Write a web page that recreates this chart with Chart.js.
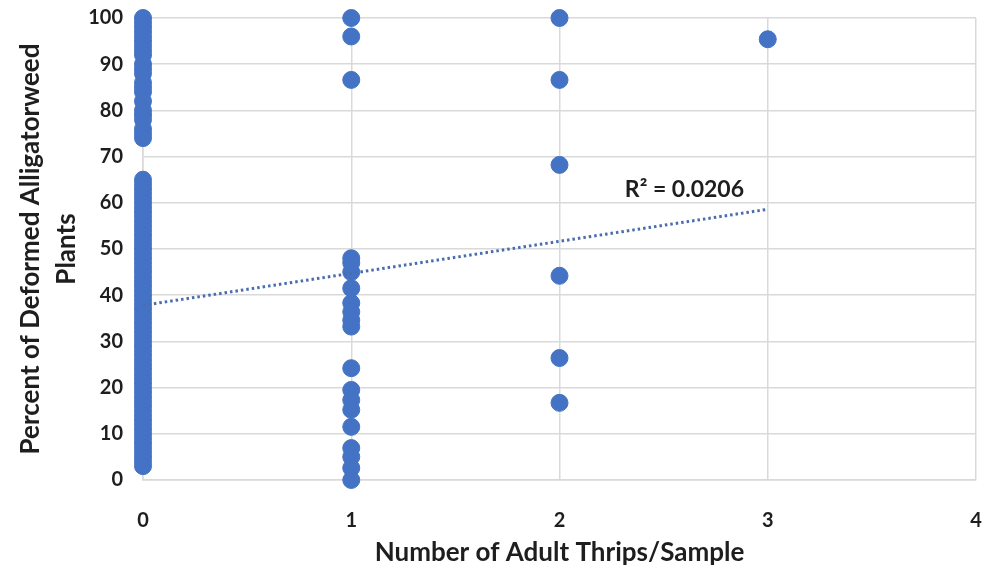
<!DOCTYPE html>
<html>
<head>
<meta charset="utf-8">
<script src="https://cdn.jsdelivr.net/npm/chart.js@4"></script>
<style>
  html, body { margin: 0; padding: 0; background: #fff; }
  #wrap { width: 988px; height: 573px; }
</style>
</head>
<body>
<div id="wrap"><canvas id="chart"></canvas></div>
<script>
// values
const thrips0 = [100, 99, 98, 97, 96, 95, 94, 93, 92, 90, 89, 88, 86, 85, 84, 82, 80, 79, 78, 76, 75, 74,
  65, 64, 63, 62, 61, 60, 59, 58, 57, 56, 55, 54, 53, 52, 51, 50, 49, 48, 47, 46, 45, 44, 43, 42, 41, 40,
  39, 38, 37, 36, 35, 34, 33, 32, 31, 30, 29, 28, 27, 26, 25, 24, 23, 22, 21, 20, 19, 18, 17, 16, 15, 14,
  13, 12, 11, 10, 9, 8, 7, 6, 5, 4, 3];
const thrips1 = [100, 96, 86.6, 48, 47, 45, 41.5, 38.3, 36.4, 34.6, 33.2, 24.2, 19.5, 17.3, 15.2, 11.5, 6.9, 5, 2.6, 0];
const thrips2 = [100, 86.6, 68.2, 44.2, 26.4, 16.7];
const thrips3 = [95.4];
const trendX = [0, 3];
const trendY = [37.8, 58.6];
const rSquared = 'R² = 0.0206';
const xTicks = [0, 1, 2, 3, 4];

const points = [];
[thrips0, thrips1, thrips2, thrips3].forEach((vals, i) => {
  vals.forEach(v => points.push({ x: i, y: v }));
});

const blue = '#4472C4';
const ink = '#1e1e1e';
const fontFam = 'Lato, "Open Sans", sans-serif';

// draws the R² label next to the trend line
const r2Label = {
  id: 'r2Label',
  afterDatasetsDraw(chart) {
    const { ctx, scales } = chart;
    ctx.save();
    ctx.font = 'bold 23px ' + fontFam;
    ctx.fillStyle = ink;
    ctx.textAlign = 'center';
    ctx.textBaseline = 'middle';
    ctx.fillText(rSquared, scales.x.getPixelForValue(2.6), scales.y.getPixelForValue(62.8));
    ctx.restore();
  }
};

new Chart(document.getElementById('chart'), {
  type: 'scatter',
  data: {
    datasets: [{
      data: points,
      backgroundColor: blue,
      borderColor: blue,
      pointRadius: 8.5,
      pointHoverRadius: 8.5,
      clip: false,
      order: 2
    }, {
      type: 'line',
      data: trendX.map((x, i) => ({ x: x, y: trendY[i] })),
      borderColor: '#4a6db0',
      borderWidth: 3,
      borderDash: [2.5, 3],
      pointRadius: 0,
      fill: false,
      order: 1
    }]
  },
  options: {
    responsive: true,
    maintainAspectRatio: false,
    animation: false,
    layout: { padding: { top: 18, right: 12, left: 0, bottom: 0 } },
    plugins: { legend: { display: false }, tooltip: { enabled: false } },
    scales: {
      x: {
        type: 'linear',
        min: 0, max: 4,
        afterFit: s => { s.height = 93; s.paddingLeft = 0; s.paddingRight = 0; },
        afterBuildTicks: s => { s.ticks = xTicks.map(v => ({ value: v })); },
        grid: { color: '#d9d9d9', lineWidth: 1.5, drawTicks: false },
        border: { color: '#d9d9d9', width: 1.5 },
        ticks: { padding: 29, color: ink, font: { family: fontFam, size: 20, weight: 'bold' } },
        title: {
          display: true,
          text: 'Number of Adult Thrips/Sample',
          color: ink,
          font: { family: fontFam, size: 26, weight: 'bold' },
          padding: { top: 0, bottom: 5 }
        }
      },
      y: {
        min: 0, max: 100,
        afterFit: s => { s.width = 143; s.paddingTop = 0; s.paddingBottom = 0; },
        grid: { color: '#d9d9d9', lineWidth: 1.5, drawTicks: false },
        border: { color: '#d9d9d9', width: 1.5 },
        ticks: { stepSize: 10, padding: 20, color: ink, font: { family: fontFam, size: 20, weight: 'bold' } },
        title: {
          display: true,
          text: ['Percent of Deformed Alligatorweed', 'Plants'],
          color: ink,
          font: { family: fontFam, size: 26, weight: 'bold', lineHeight: 1.4 },
          padding: { top: 12, bottom: 0 }
        }
      }
    }
  },
  plugins: [r2Label]
});
</script>
</body>
</html>
